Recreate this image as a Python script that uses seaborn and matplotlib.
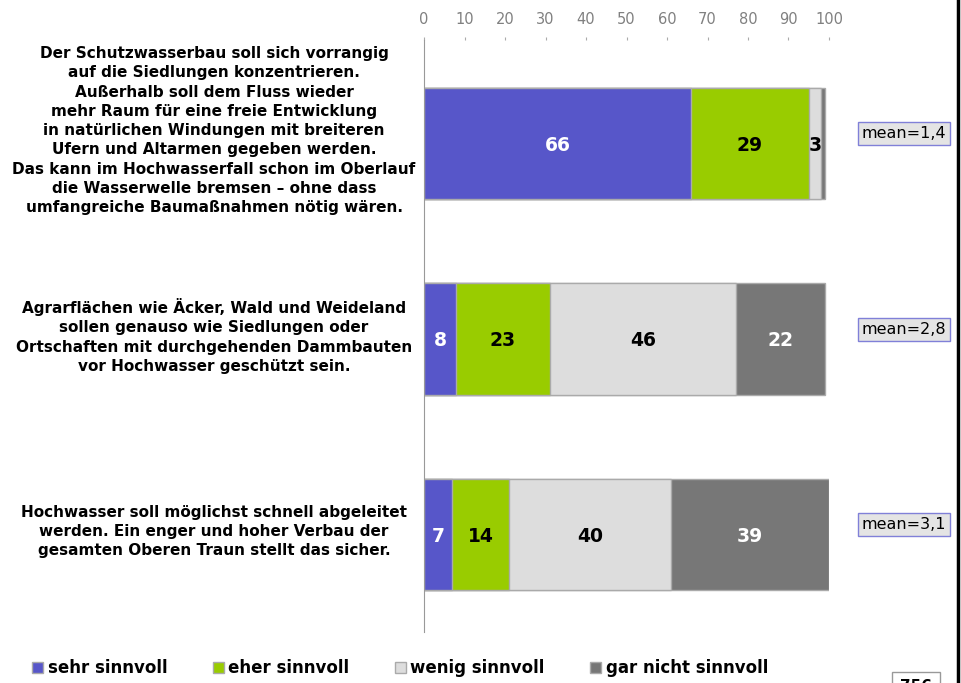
import seaborn as sns
import pandas as pd
import matplotlib.pyplot as plt
from matplotlib.patches import Patch
from matplotlib.lines import Line2D
from matplotlib.transforms import blended_transform_factory

# data
statements = [
    'Der Schutzwasserbau soll sich vorrangig\nauf die Siedlungen konzentrieren.\nAußerhalb soll dem Fluss wieder\nmehr Raum für eine freie Entwicklung\nin natürlichen Windungen mit breiteren\nUfern und Altarmen gegeben werden.\nDas kann im Hochwasserfall schon im Oberlauf\ndie Wasserwelle bremsen – ohne dass\numfangreiche Baumaßnahmen nötig wären.',
    'Agrarflächen wie Äcker, Wald und Weideland\nsollen genauso wie Siedlungen oder\nOrtschaften mit durchgehenden Dammbauten\nvor Hochwasser geschützt sein.',
    'Hochwasser soll möglichst schnell abgeleitet\nwerden. Ein enger und hoher Verbau der\ngesamten Oberen Traun stellt das sicher.',
]
categories = ['sehr sinnvoll', 'eher sinnvoll', 'wenig sinnvoll', 'gar nicht sinnvoll']
sehr = [66, 8, 7]
eher = [29, 23, 14]
wenig = [3, 46, 40]
gar_nicht = [1, 22, 39]
means = ['mean=1,4', 'mean=2,8', 'mean=3,1']
n_label = '756'

colors = ['#5756c9', '#99cc00', '#dddddd', '#777777']
text_colors = ['white', 'black', 'black', 'white']

df = pd.DataFrame({'row': [0, 1, 2], 'sehr sinnvoll': sehr, 'eher sinnvoll': eher,
                   'wenig sinnvoll': wenig, 'gar nicht sinnvoll': gar_nicht})
cum = df[categories].cumsum(axis=1)

fig = plt.figure(figsize=(9.62, 6.83), dpi=100)
ax = fig.add_axes([424 / 962, 1 - 632 / 683, 405 / 962, 592 / 683])

# stacked bars: draw cumulative totals from the largest down
for cat, col in reversed(list(zip(categories, colors))):
    sns.barplot(x=cum[cat], y=df['row'].astype(str), orient='h', color=col, saturation=1,
                width=0.57, edgecolor='#aaaaaa', linewidth=1, ax=ax)

# segment labels
for i in range(len(df)):
    left = 0
    for cat, tc in zip(categories, text_colors):
        v = df.loc[i, cat]
        if v >= 3:
            ax.text(left + v / 2, i + 0.01, str(v), ha='center', va='center',
                    fontsize=13.5, fontweight='bold', color=tc)
        left += v

ax.set_xlim(0, 100)
ax.set_ylim(2.5, -0.53)
ax.xaxis.tick_top()
ax.set_xticks(range(0, 101, 10))
ax.tick_params(axis='x', colors='#aaaaaa', labelcolor='#808080', labelsize=10.5, length=2, pad=7)
ax.tick_params(axis='y', left=False, labelleft=False)
ax.set_xlabel('')
ax.set_ylabel('')
for s in ['top', 'right', 'bottom']:
    ax.spines[s].set_visible(False)
ax.spines['left'].set_color('#999999')

# statements on the left (sit a bit above the bar centres)
trans = blended_transform_factory(fig.transFigure, ax.transData)
for i, (s, dy) in enumerate(zip(statements, [-0.066, -0.015, -0.015])):
    ax.text(214 / 962, i + dy, s, transform=trans, ha='center', va='center',
            fontsize=11, fontweight='bold', linespacing=1.36)

# mean boxes
for i, m in enumerate(means):
    ax.text(904 / 962, i - 0.05, m, transform=trans, ha='center', va='center',
            fontsize=11.5, clip_on=False,
            bbox=dict(boxstyle='square,pad=0.25', facecolor='#e4e4e4', edgecolor='#8080d8', linewidth=1))

# legend
handles = [Patch(facecolor=c, edgecolor='#aaaaaa') for c in colors]
fig.legend(handles, categories, loc='center left', bbox_to_anchor=(24 / 962, 1 - 668 / 683),
           ncol=4, frameon=False, handlelength=0.66, handleheight=0.66, handletextpad=0.25,
           columnspacing=2.75, borderpad=0, prop={'weight': 'bold', 'size': 12})

# n box (cut off at the bottom edge, as in the source)
fig.text(916 / 962, 1 - 687 / 683, n_label, ha='center', va='center', fontsize=11, fontweight='bold',
         bbox=dict(boxstyle='square,pad=0.5', facecolor='white', edgecolor='#999999'))

# right frame line
fig.add_artist(Line2D([958.5 / 962, 958.5 / 962], [0, 1], transform=fig.transFigure, color='black', linewidth=2.5))

fig.savefig('out.png', dpi=100)
